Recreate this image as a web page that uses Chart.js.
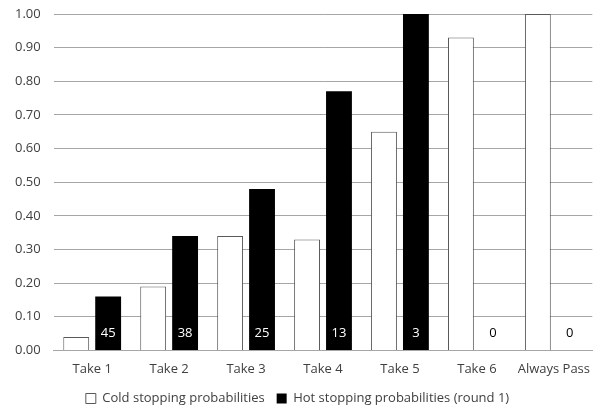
<!DOCTYPE html>
<html>
<head>
<meta charset="utf-8">
<script src="https://cdn.jsdelivr.net/npm/chart.js@4"></script>
<style>
  html, body { margin: 0; padding: 0; background: #fff; }
  #wrap { width: 593px; height: 415px; }
</style>
</head>
<body>
<div id="wrap"><canvas id="stopChart"></canvas></div>
<script>
var categories = ['Take 1', 'Take 2', 'Take 3', 'Take 4', 'Take 5', 'Take 6', 'Always Pass'];
var coldProbs = [0.04, 0.19, 0.34, 0.33, 0.65, 0.93, 1.00];
var hotProbs = [0.16, 0.34, 0.48, 0.77, 1.00, 0, 0];
var hotCounts = [45, 38, 25, 13, 3, 0, 0];

var fontFamily = "'Open Sans', 'Noto Sans', sans-serif";
var textColor = '#404040';

// draws the counts near the bottom of each hot bar
var countLabels = {
    id: 'countLabels',
    afterDatasetsDraw: function(chart) {
        var ctx = chart.ctx;
        var meta = chart.getDatasetMeta(1);
        var base = chart.scales.y.getPixelForValue(0);
        ctx.save();
        ctx.font = '13px ' + fontFamily;
        ctx.textAlign = 'center';
        ctx.textBaseline = 'middle';
        meta.data.forEach(function(bar, i) {
            ctx.fillStyle = hotProbs[i] > 0.08 ? '#ffffff' : '#000000';
            ctx.fillText(String(hotCounts[i]), bar.x, base - 17);
        });
        ctx.restore();
    }
};

new Chart(document.getElementById('stopChart'), {
    type: 'bar',
    plugins: [countLabels],
    data: {
        labels: categories,
        datasets: [{
            label: 'Cold stopping probabilities',
            data: coldProbs,
            backgroundColor: '#ffffff',
            borderColor: '#595959',
            borderWidth: 1
        }, {
            label: 'Hot stopping probabilities (round 1)',
            data: hotProbs,
            backgroundColor: '#000000',
            borderColor: '#000000',
            borderWidth: 0
        }]
    },
    options: {
        responsive: true,
        maintainAspectRatio: false,
        animation: false,
        layout: { padding: { top: 14, right: 0, left: 2, bottom: 0 } },
        datasets: {
            bar: { categoryPercentage: 0.83, barPercentage: 0.81 }
        },
        plugins: {
            tooltip: { enabled: false },
            legend: {
                position: 'bottom',
                labels: {
                    boxWidth: 10,
                    boxHeight: 10,
                    padding: 12,
                    color: textColor,
                    font: { family: fontFamily, size: 13 }
                }
            }
        },
        scales: {
            x: {
                grid: { display: false },
                border: { color: '#a6a6a6' },
                ticks: {
                    color: textColor,
                    padding: 3,
                    maxRotation: 0,
                    minRotation: 0,
                    autoSkip: false,
                    font: { family: fontFamily, size: 13 }
                }
            },
            y: {
                min: 0,
                max: 1,
                border: { display: false },
                grid: { color: '#a6a6a6', drawTicks: false },
                afterFit: function(scale) { scale.paddingTop = 0; },
                ticks: {
                    stepSize: 0.1,
                    padding: 13,
                    color: textColor,
                    font: { family: fontFamily, size: 13 },
                    callback: function(v) { return v.toFixed(2); }
                }
            }
        }
    }
});
</script>
</body>
</html>
